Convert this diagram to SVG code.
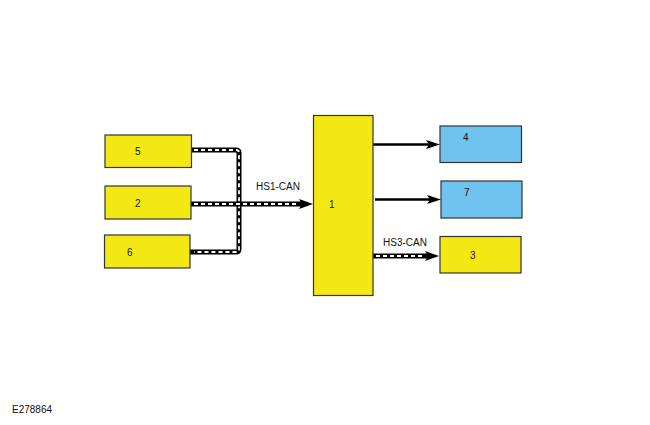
<svg xmlns="http://www.w3.org/2000/svg" width="650" height="425" viewBox="0 0 650 425">
<defs>
<style>
.y{fill:#f4e814;stroke:#333;stroke-width:1.2}
.b{fill:#70c3ee;stroke:#333;stroke-width:1.2}
.t{font-family:"Liberation Sans",Arial,sans-serif;font-size:10px;fill:#111}
.bus{fill:none;stroke:#000;stroke-width:5;stroke-linejoin:round}
.dash{fill:none;stroke:#fff;stroke-width:1.8;stroke-dasharray:4 3}
.ln{fill:none;stroke:#000;stroke-width:2.5}
</style>
<marker id="ah" viewBox="0 0 10 8" refX="10" refY="4" markerWidth="10" markerHeight="8" markerUnits="userSpaceOnUse" orient="auto">
<path d="M0,0 L10,4 L0,8 L3,4 Z" fill="#000"/>
</marker>
</defs>
<rect width="650" height="425" fill="#fff"/>
<g id="connectors">
<path class="bus" d="M191,150 H236 Q239,150 239,153 V249 Q239,252 236,252 H190"/>
<path class="dash" d="M194,150 H236 Q239,150 239,153 V249 Q239,252 236,252 H194"/>
<path class="bus" d="M191,204 H302"/>
<path class="dash" d="M194,204 H298"/>
<path d="M299,199 L313,204 L299,209 L302,204 Z" fill="#000"/>
<path class="ln" d="M373,144.5 H432"/>
<path d="M426,140 L440,144.5 L426,149 L429,144.5 Z" fill="#000"/>
<path class="ln" d="M375,199.5 H433"/>
<path d="M427,195 L441,199.5 L427,204 L430,199.5 Z" fill="#000"/>
<path class="bus" d="M373,256 H428"/>
<path class="dash" d="M376,256 H424"/>
<path d="M425,251 L439,256 L425,261 L428,256 Z" fill="#000"/>
<text class="t" x="256" y="190">HS1-CAN</text>
<text class="t" x="383" y="246">HS3-CAN</text>
</g>
<g id="n5"><rect class="y" x="105" y="135" width="86.5" height="32.5"/><text class="t" x="135" y="155">5</text></g>
<g id="n2"><rect class="y" x="105" y="186" width="86" height="33"/><text class="t" x="135" y="207">2</text></g>
<g id="n6"><rect class="y" x="104.5" y="235" width="85.5" height="33"/><text class="t" x="127" y="256">6</text></g>
<g id="n1"><rect class="y" x="313.5" y="115.5" width="59.5" height="180"/><text class="t" x="329" y="208">1</text></g>
<g id="n4"><rect class="b" x="440" y="126" width="81.5" height="36.5"/><text class="t" x="463" y="141">4</text></g>
<g id="n7"><rect class="b" x="441" y="181" width="81" height="37"/><text class="t" x="464" y="196">7</text></g>
<g id="n3"><rect class="y" x="440" y="236.5" width="81" height="36.5"/><text class="t" x="470" y="259">3</text></g>
<text class="t" x="12" y="413">E278864</text>
</svg>
